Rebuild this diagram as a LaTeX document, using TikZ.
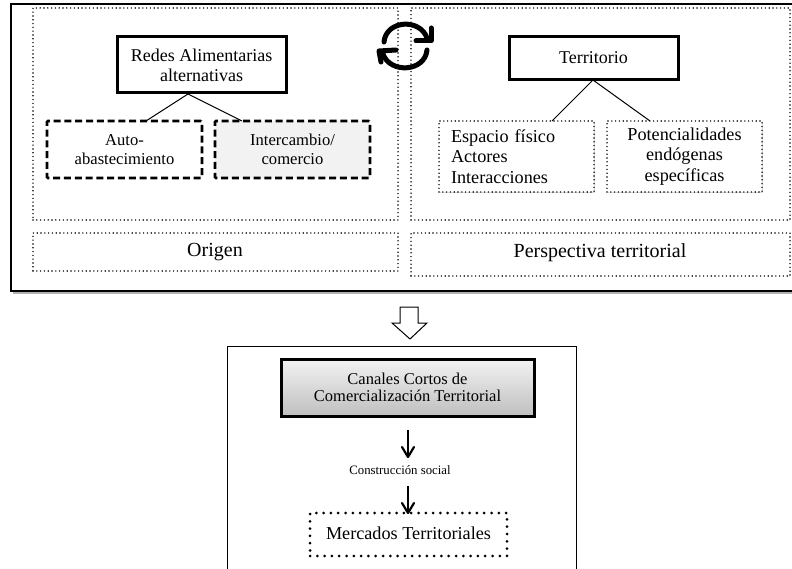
\documentclass[tikz,border=0pt]{standalone}
\usepackage{fontspec}
\setmainfont{Liberation Serif}
\usetikzlibrary{shadows,arrows.meta}
\tikzset{
  x=1pt,y=-1pt,
  zone/.style={draw=black,line width=1.6pt,line cap=round,dash pattern=on 0pt off 3.8pt,inner sep=0pt},
  outerbox/.style={draw=black,fill=white,inner sep=0pt},
  main/.style={draw=black,line width=3pt,fill=white,align=center,inner sep=0pt,font=\fontsize{18}{21}\selectfont},
  dashbox/.style={draw=black,line width=2.8pt,dash pattern=on 7pt off 3.8pt,rounded corners=1pt,align=center,inner sep=0pt,font=\fontsize{16.6}{18.5}\selectfont},
  dotbox/.style={zone,fill=white,align=center,font=\fontsize{18.2}{20.5}\selectfont,drop shadow={shadow xshift=1pt,shadow yshift=-1.5pt,opacity=.3}},
  link/.style={draw=black,line width=1pt},
  flow/.style={draw=black,line width=1.4pt},
  barb/.style={draw=black,line width=2.2pt,line cap=round,line join=round},
  cyc/.style={line width=5pt,draw=black,line cap=round,line join=round},
  lab/.style={font=\fontsize{20}{22}\selectfont,align=center,inner sep=0pt}
}
\begin{document}
\begin{tikzpicture}
\useasboundingbox (0,0) rectangle (792,569);
% upper frame with its shadow
\path[fill=black!30] (13,8) rectangle (800,294);
\node[outerbox,line width=1.8pt,minimum width=800pt,minimum height=287pt] (upper) at (411,147.5) {};
\node[zone,minimum width=365pt,minimum height=212pt] (zl) at (215.5,114) {};
\node[zone,minimum width=365pt,minimum height=38pt] (zo) at (215.5,252) {};
\node[lab] (to) at (215,252.5) {Origen};
\node[zone,minimum width=379pt,minimum height=212pt] (zr) at (600.5,114) {};
\node[zone,minimum width=379pt,minimum height=43pt] (zp) at (600.5,254.5) {};
\node[lab] (tp) at (600,252.5) {Perspectiva territorial};
\node[main,minimum width=169pt,minimum height=56pt] (redes) at (201.5,65) {\raisebox{-1pt}{Redes Alimentarias}\\alternativas};
\node[main,minimum width=169pt,minimum height=43pt] (terr) at (593.5,58.5) {\raisebox{2pt}{Territorio}};
\node[dashbox,minimum width=155pt,minimum height=57pt] (auto) at (124.5,149.5) {Auto-\\abastecimiento};
\node[dashbox,fill=black!5,minimum width=155pt,minimum height=57pt] (inter) at (292.5,149.5) {Intercambio/\\comercio};
\node[dotbox,minimum width=155pt,minimum height=71pt,align=left,text width=131pt] (esp) at (516.5,156.5) {Espacio físico\\Actores\\Interacciones};
\node[dotbox,minimum width=155pt,minimum height=71pt] (pot) at (684.5,156.5) {Potencialidades\\endógenas\\específicas};
\coordinate (r0) at (188,94);
\coordinate (a0) at (146,121);
\coordinate (b0) at (242,121);
\coordinate (t0) at (593,80);
\coordinate (e0) at (552,121);
\coordinate (p0) at (650,121);
\draw[link] (r0) -- (a0);
\draw[link] (r0) -- (b0);
\draw[link] (t0) -- (e0);
\draw[link] (t0) -- (p0);
% cycle icon
\draw[cyc] (384,42) .. controls (386,20) and (420,18) .. (427,38);
\draw[cyc] (431,28) -- (431,41) -- (416,41);
\draw[cyc] (427,50) .. controls (425,72) and (390,74) .. (383,54);
\draw[cyc] (381,62) -- (379,51) -- (396,50);
% block arrow
\path[draw=black,line width=1pt,fill=white] (400,307) -- (418,307) -- (418,323) -- (427,323) -- (410,339) -- (392,323) -- (400,323) -- cycle;
% lower frame
\node[outerbox,line width=.9pt,minimum width=349pt,minimum height=260pt,drop shadow={shadow xshift=1pt,shadow yshift=-1pt,opacity=.3}] (lower) at (401.5,476) {};
\node[draw=black,line width=3pt,minimum width=253pt,minimum height=57pt,inner sep=0pt,align=center,top color=black!5,bottom color=black!25,font=\fontsize{16.5}{17}\selectfont,drop shadow={shadow xshift=1pt,shadow yshift=-2pt,opacity=.35}] (canal) at (407.5,387.5) {Canales Cortos de\\Comercialización Territorial};
\node[inner sep=0pt,font=\fontsize{12.8}{14}\selectfont] (cons) at (400,470) {Construcción social};
\node[draw=black,line width=3pt,line cap=round,dash pattern=on 0pt off 7.3pt,minimum width=197pt,minimum height=43pt,inner sep=0pt,font=\fontsize{18.2}{20}\selectfont] (merc) at (408.5,534.5) {\raisebox{3pt}{Mercados Territoriales}};
\coordinate (f1a) at (408,430);
\coordinate (f1b) at (408,457);
\coordinate (f2a) at (408,486);
\coordinate (f2b) at (408,513);
\draw[flow] (f1a) -- (f1b);
\draw[barb] (402,447) -- (f1b) -- (414,447);
\draw[flow] (f2a) -- (f2b);
\draw[barb] (402,503) -- (f2b) -- (414,503);
\end{tikzpicture}
\end{document}
